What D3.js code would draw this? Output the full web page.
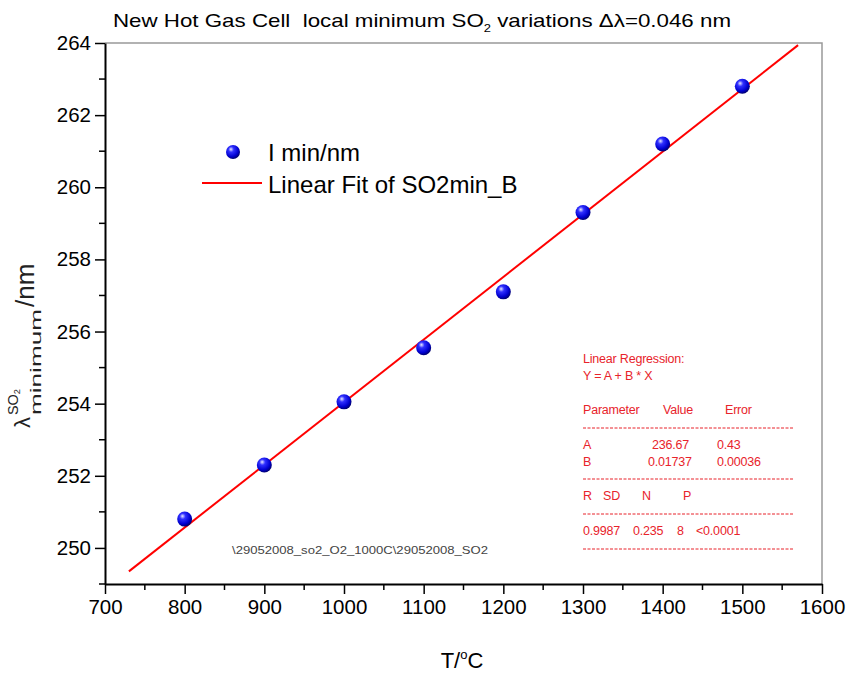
<!DOCTYPE html>
<html>
<head>
<meta charset="utf-8">
<script src="https://cdn.jsdelivr.net/npm/d3@7"></script>
<style>
  body { margin: 0; background: #fff; }
  text { font-family: "Liberation Sans", Arial, sans-serif; }
</style>
</head>
<body>
<div id="chart"></div>
<script>
// Data
var temps = [800, 900, 1000, 1100, 1200, 1300, 1400, 1500];
var lambdaMin = [250.8, 252.3, 254.05, 255.55, 257.1, 259.3, 261.2, 262.8];
var fitA = 236.67;
var fitB = 0.01737;
var fitRange = [730, 1570];
var xTicks = [700, 800, 900, 1000, 1100, 1200, 1300, 1400, 1500, 1600];
var yTicks = [250, 252, 254, 256, 258, 260, 262, 264];
var legendLabels = ["I min/nm", "Linear Fit of SO2min_B"];

// Regression box text
var regHeader = ["Linear Regression:", "Y = A + B * X"];
var regParamHead = ["Parameter", "Value", "Error"];
var regParams = [["A", "236.67", "0.43"], ["B", "0.01737", "0.00036"]];
var regStatHead = ["R", "SD", "N", "P"];
var regStats = ["0.9987", "0.235", "8", "<0.0001"];
var fileNote = "\\29052008_so2_O2_1000C\\29052008_SO2";

var svgWidth = 852;
var svgHeight = 675;
var margin = { top: 43, right: 30, bottom: 91, left: 105 };
var width = svgWidth - margin.left - margin.right;
var height = svgHeight - margin.top - margin.bottom;

var svg = d3.select("#chart")
  .append("svg")
  .attr("width", svgWidth)
  .attr("height", svgHeight);

var defs = svg.append("defs");
var grad = defs.append("radialGradient")
  .attr("id", "ball")
  .attr("cx", "40%").attr("cy", "35%").attr("r", "65%")
  .attr("fx", "35%").attr("fy", "30%");
grad.append("stop").attr("offset", "0%").attr("stop-color", "#e8e8ff");
grad.append("stop").attr("offset", "30%").attr("stop-color", "#3030ff");
grad.append("stop").attr("offset", "75%").attr("stop-color", "#0000d0");
grad.append("stop").attr("offset", "100%").attr("stop-color", "#000070");

var chartGroup = svg.append("g")
  .attr("transform", `translate(${margin.left}, ${margin.top})`);

var xScale = d3.scaleLinear().domain([700, 1600]).range([0, width]);
var yScale = d3.scaleLinear().domain([249, 264]).range([height, 0]);

// frame top / right (grey)
chartGroup.append("path")
  .attr("d", `M0,0H${width}V${height}`)
  .attr("fill", "none")
  .attr("stroke", "#999")
  .attr("stroke-width", 1.5);

// minor ticks
var xMinor = xTicks.slice(0, -1).map(d => d + 50);
var yMinor = yTicks.slice(0, -1).map(d => d + 1).concat([249]);

chartGroup.append("g")
  .selectAll("line")
  .data(xMinor)
  .enter()
  .append("line")
  .attr("x1", d => xScale(d)).attr("x2", d => xScale(d))
  .attr("y1", height).attr("y2", height + 6)
  .attr("stroke", "#000").attr("stroke-width", 1.5);

chartGroup.append("g")
  .selectAll("line")
  .data(yMinor)
  .enter()
  .append("line")
  .attr("x1", -6).attr("x2", 0)
  .attr("y1", d => yScale(d)).attr("y2", d => yScale(d))
  .attr("stroke", "#000").attr("stroke-width", 1.5);

// axes
var bottomAxis = d3.axisBottom(xScale).tickValues(xTicks).tickFormat(d3.format("d"))
  .tickSize(10).tickPadding(5).tickSizeOuter(0);
var leftAxis = d3.axisLeft(yScale).tickValues(yTicks).tickFormat(d3.format("d"))
  .tickSize(10).tickPadding(4).tickSizeOuter(0);

var xg = chartGroup.append("g")
  .attr("transform", `translate(0, ${height})`)
  .call(bottomAxis);
var yg = chartGroup.append("g")
  .call(leftAxis);

[xg, yg].forEach(function (g) {
  g.select(".domain").attr("stroke", "#000").attr("stroke-width", 2);
  g.selectAll(".tick line").attr("stroke", "#000").attr("stroke-width", 1.5);
  g.selectAll(".tick text")
    .attr("fill", "#000")
    .style("font-size", "20.5px")
    .style("font-family", "'Liberation Sans', Arial, sans-serif");
});

// fit line
chartGroup.append("line")
  .attr("x1", xScale(fitRange[0]))
  .attr("y1", yScale(fitA + fitB * fitRange[0]))
  .attr("x2", xScale(fitRange[1]))
  .attr("y2", yScale(fitA + fitB * fitRange[1]))
  .attr("stroke", "#ff0000")
  .attr("stroke-width", 2);

// points
var points = temps.map((t, i) => ({ t: t, v: lambdaMin[i] }));
chartGroup.selectAll("circle.pt")
  .data(points)
  .enter()
  .append("circle")
  .attr("class", "pt")
  .attr("cx", d => xScale(d.t))
  .attr("cy", d => yScale(d.v))
  .attr("r", 7.5)
  .attr("fill", "url(#ball)");

// legend
svg.append("circle")
  .attr("cx", 233).attr("cy", 152).attr("r", 7)
  .attr("fill", "url(#ball)");
svg.append("line")
  .attr("x1", 202).attr("x2", 262)
  .attr("y1", 183).attr("y2", 183)
  .attr("stroke", "#ff0000").attr("stroke-width", 2);
svg.selectAll("text.legend")
  .data(legendLabels)
  .enter()
  .append("text")
  .attr("class", "legend")
  .attr("x", 268)
  .attr("y", (d, i) => 161 + i * 32)
  .style("font-size", "24px")
  .text(d => d);

// title
var title = svg.append("text")
  .attr("x", 113).attr("y", 27)
  .attr("textLength", 618)
  .attr("lengthAdjust", "spacingAndGlyphs")
  .style("font-size", "19px")
  .style("white-space", "pre");
title.append("tspan").text("New Hot Gas Cell  local minimum SO");
title.append("tspan").attr("dy", 5).style("font-size", "11px").text("2");
title.append("tspan").attr("dy", -5).text(" variations \u0394\u03bb=0.046 nm");

// x label
var xl = svg.append("text")
  .attr("x", 462).attr("y", 668)
  .attr("text-anchor", "middle")
  .style("font-size", "22px");
xl.append("tspan").text("T/");
xl.append("tspan").attr("dy", -9).style("font-size", "13px").text("o");
xl.append("tspan").attr("dy", 9).text("C");

// y label (stacked super/subscript)
var yl = svg.append("g").attr("transform", "translate(30, 428) rotate(-90)").attr("fill", "#222");
var lam = yl.append("text").attr("x", 0).attr("y", 0).style("font-size", "22px").text("\u03bb");
var lamW = lam.node().getComputedTextLength() + 2;
var sup = yl.append("text").attr("x", lamW).attr("y", -12)
  .attr("textLength", 26).attr("lengthAdjust", "spacingAndGlyphs")
  .style("font-size", "14px");
sup.append("tspan").text("SO");
sup.append("tspan").attr("dy", 2).style("font-size", "9px").text("2");
var subLen = 106;
yl.append("text").attr("x", lamW).attr("y", 11)
  .attr("textLength", subLen).attr("lengthAdjust", "spacingAndGlyphs")
  .style("font-size", "15px").text("minimum");
yl.append("text").attr("x", lamW + subLen + 2).attr("y", 4)
  .style("font-size", "26px").text("/nm");

// regression box
var red = "#e8232b";
var reg = svg.append("g").attr("fill", red).style("font-size", "12.5px").style("letter-spacing", "-0.2px");
reg.selectAll("text.h")
  .data(regHeader)
  .enter()
  .append("text")
  .attr("x", 583)
  .attr("y", (d, i) => 363 + i * 17)
  .text(d => d);
var headX = [583, 663, 725];
reg.selectAll("text.ph")
  .data(regParamHead)
  .enter()
  .append("text")
  .attr("x", (d, i) => headX[i])
  .attr("y", 414)
  .text(d => d);
var paramX = [583, 652, 717];
regParams.forEach(function (row, r) {
  reg.selectAll(null)
    .data(row)
    .enter()
    .append("text")
    .attr("x", (d, i) => (i === 1 && r === 1) ? 648 : paramX[i])
    .attr("y", 449 + r * 17)
    .text(d => d);
});
var statHeadX = [583, 603, 642, 683];
reg.selectAll(null)
  .data(regStatHead)
  .enter()
  .append("text")
  .attr("x", (d, i) => statHeadX[i])
  .attr("y", 500)
  .text(d => d);
var statX = [583, 633, 677, 696];
reg.selectAll(null)
  .data(regStats)
  .enter()
  .append("text")
  .attr("x", (d, i) => statX[i])
  .attr("y", 535)
  .text(d => d);
[428, 479, 514, 549].forEach(function (y) {
  svg.append("line")
    .attr("x1", 583).attr("x2", 793)
    .attr("y1", y).attr("y2", y)
    .attr("stroke", red)
    .attr("stroke-width", 1)
    .attr("stroke-dasharray", "3,1.5");
});

// file note
svg.append("text")
  .attr("x", 232).attr("y", 554)
  .attr("textLength", 256)
  .attr("lengthAdjust", "spacingAndGlyphs")
  .attr("fill", "#444")
  .style("font-size", "11px")
  .text(fileNote);
</script>
</body>
</html>
